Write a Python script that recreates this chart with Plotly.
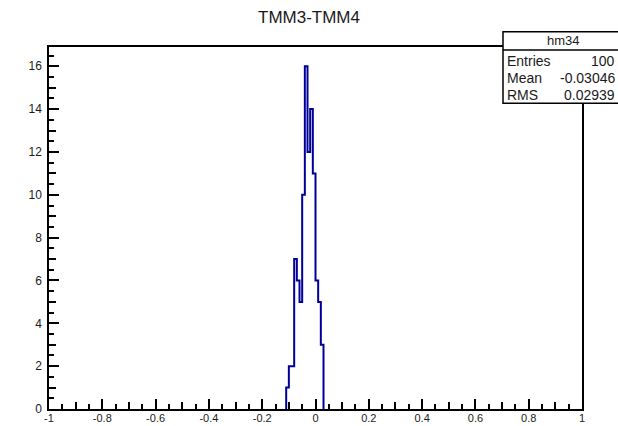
import numpy as np
import plotly.graph_objects as go

# ---------------- data ----------------
hist_title = "TMM3-TMM4"
hist_name = "hm34"
bin_width = 0.01
bin_centers = [-0.105, -0.095, -0.085, -0.075, -0.065, -0.055, -0.045,
               -0.035, -0.025, -0.015, -0.005, 0.005, 0.015, 0.025]
counts = [1, 2, 2, 7, 6, 5, 10, 16, 12, 14, 11, 6, 5, 3]
x_range = [-1.0, 1.0]
y_range = [0.0, 16.9]
stats_labels = ["Entries", "Mean", "RMS"]
stats_values = ["100", "-0.03046", "0.02939"]

x_tick_vals = [float(v) + 0.0 for v in np.round(np.arange(-1.0, 1.0001, 0.2), 10)]
x_tick_text = [f"{v:g}" for v in x_tick_vals]
y_tick_vals = list(range(0, 17, 2))
y_tick_text = [str(v) for v in y_tick_vals]

# ---------------- step outline ----------------
centers = np.array(bin_centers)
lefts = centers - bin_width / 2
right_end = centers[-1] + bin_width / 2
step_x = [lefts[0]] + list(lefts) + [right_end]
step_y = [0] + list(counts) + [0]

W, H = 618, 426
ML, MR, MT, MB = 49, 36, 47, 17
PW, PH = W - ML - MR, H - MT - MB


def px(x):
    return (x - ML) / PW


def py(y):
    return (H - MB - y) / PH


fig = go.Figure()
fig.add_trace(go.Scatter(x=step_x, y=step_y, mode="lines", line_shape="hv",
                         line=dict(color="#000099", width=2),
                         showlegend=False, hoverinfo="skip"))
# empty trace to host the intermediate-tick axes
fig.add_trace(go.Scatter(x=[], y=[], xaxis="x2", yaxis="y2",
                         showlegend=False, hoverinfo="skip"))

xtickfont = dict(family="Liberation Sans, Arial, sans-serif", size=11, color="#1a1a1a")
ytickfont = dict(family="Liberation Sans, Arial, sans-serif", size=12, color="#1a1a1a")

fig.update_layout(
    width=W, height=H,
    margin=dict(l=ML, r=MR, t=MT, b=MB, autoexpand=False),
    paper_bgcolor="white", plot_bgcolor="white",
    font=dict(family="Liberation Sans, Arial, sans-serif", color="#1a1a1a"),
    showlegend=False,
    title=dict(text=hist_title, x=309 / W, xanchor="center", xref="container",
               y=1 - 17 / H, yanchor="middle", yref="container",
               font=dict(size=17, color="#1a1a1a")),
    xaxis=dict(range=x_range, showgrid=False, zeroline=False, automargin=False,
               showline=True, linecolor="black", linewidth=1.5, mirror=True,
               ticks="inside", ticklen=10, tickwidth=1.5, tickcolor="black",
               tickmode="array", tickvals=x_tick_vals, ticktext=x_tick_text,
               tickfont=xtickfont, ticklabelstandoff=-2,
               minor=dict(ticks="inside", ticklen=5, tickwidth=1.5, tickcolor="black",
                          tickmode="linear", tick0=-1, dtick=0.05, showgrid=False)),
    yaxis=dict(range=y_range, showgrid=False, zeroline=False, automargin=False,
               showline=True, linecolor="black", linewidth=1.5, mirror=True,
               ticks="inside", ticklen=10, tickwidth=1.5, tickcolor="black",
               tickmode="array", tickvals=y_tick_vals, ticktext=y_tick_text,
               tickfont=ytickfont, ticklabelstandoff=3,
               minor=dict(ticks="inside", ticklen=5, tickwidth=1.5, tickcolor="black",
                          tickmode="linear", tick0=0, dtick=0.5, showgrid=False)),
    xaxis2=dict(overlaying="x", anchor="y2", side="bottom", range=x_range,
                showgrid=False, zeroline=False, showline=False, automargin=False,
                ticks="inside", ticklen=7, tickwidth=1.5, tickcolor="black",
                tickmode="linear", tick0=-1, dtick=0.1, showticklabels=False),
    yaxis2=dict(overlaying="y", anchor="x2", side="left", range=y_range,
                showgrid=False, zeroline=False, showline=False, automargin=False,
                ticks="inside", ticklen=7, tickwidth=1.5, tickcolor="black",
                tickmode="linear", tick0=0, dtick=1, showticklabels=False),
)

# ---------------- stats box ----------------
box_l, box_r, box_t, box_b, head_b = 503, 623, 31.7, 103.3, 50
fig.add_shape(type="rect", xref="paper", yref="paper",
              x0=px(box_l), x1=px(box_r), y0=py(box_b), y1=py(box_t),
              line=dict(color="black", width=1.5), fillcolor="white", layer="above")
fig.add_shape(type="line", xref="paper", yref="paper",
              x0=px(box_l), x1=px(box_r), y0=py(head_b), y1=py(head_b),
              line=dict(color="black", width=1.5), layer="above")

statfont = dict(family="Liberation Sans, Arial, sans-serif", size=14, color="#1a1a1a")
fig.add_annotation(text=hist_name, xref="paper", yref="paper",
                   x=px((box_l + box_r) / 2), y=py(40.5), xanchor="center", yanchor="middle",
                   showarrow=False, font=dict(family="Liberation Sans, Arial, sans-serif",
                                              size=13, color="#1a1a1a"))
row_y = [60.5, 77.8, 95.5]
for lab, val, ry in zip(stats_labels, stats_values, row_y):
    fig.add_annotation(text=lab, xref="paper", yref="paper", x=px(505), y=py(ry),
                       xanchor="left", yanchor="middle", showarrow=False, font=statfont)
    fig.add_annotation(text=val, xref="paper", yref="paper", x=px(617), y=py(ry),
                       xanchor="right", yanchor="middle", showarrow=False, font=statfont)

fig.write_html("out.html")
